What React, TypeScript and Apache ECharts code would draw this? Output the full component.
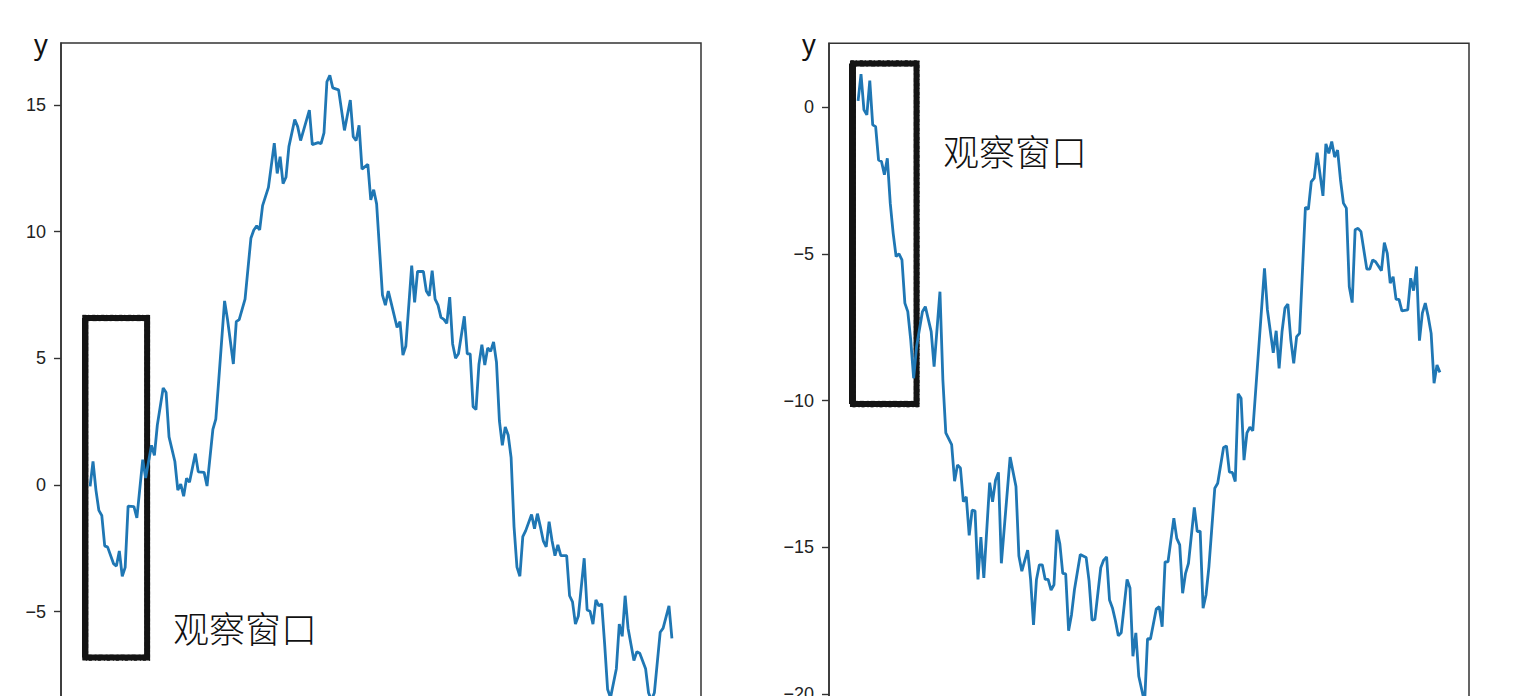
import React, { useEffect, useRef } from "react";
import * as echarts from "echarts";

// ---- data (step index, value) ----
const leftSteps = [0,1,2,3,4,5,6,8,9,10,11,12,13,15,16,18,19,21,22,23,25,26,27,29,30,31,32,33,34,36,37,39,40,42,43,44,46,47,49,50,51,53,55,56,57,58,59,61,63,64,65,66,67,68,70,71,72,75,76,78,79,80,81,82,83,85,87,89,90,91,92,93,95,96,97,98,100,101,102,103,105,106,107,108,110,111,112,114,115,116,117,118,119,120,121,122,123,124,125,126,128,129,130,131,132,133,134,135,136,137,138,139,140,141,142,143,144,145,146,147,148,149,151,152,153,154,155,156,157,158,159,160,161,163,164,165,166,167,169,170,171,172,173,174,175,176,177,178,180,181,182,183,184,186,187,188,190,191,192,193,195,196,198,199];
const leftValues = [-0.05,0.93,-0.2,-1.0,-1.2,-2.4,-2.45,-3.1,-3.2,-2.6,-3.6,-3.25,-0.83,-0.85,-1.3,1.0,0.28,1.57,1.17,2.37,3.83,3.65,1.9,0.93,-0.2,0.04,-0.44,0.27,0.11,1.24,0.52,0.5,-0.04,2.2,2.6,4.13,7.27,6.54,4.78,6.45,6.53,7.34,9.74,10.07,10.23,10.07,11.03,11.75,13.5,12.3,12.96,11.9,12.15,13.36,14.43,14.15,13.6,14.8,13.44,13.52,13.48,13.9,15.92,16.17,15.68,15.6,14.0,15.2,13.75,13.6,14.2,12.47,12.66,11.26,11.66,11.1,7.5,7.1,7.66,7.18,6.22,6.45,5.13,5.49,8.66,7.21,8.43,8.43,7.66,7.47,8.46,7.34,7.1,6.62,6.54,6.38,7.42,5.57,5.01,5.18,6.66,5.18,5.18,3.09,2.98,4.77,5.54,4.74,5.41,5.28,5.65,4.85,2.53,1.57,2.29,1.98,1.08,-1.64,-3.24,-3.6,-2.04,-1.8,-1.16,-1.72,-1.13,-1.64,-2.2,-2.44,-1.45,-2.2,-2.79,-2.36,-2.79,-2.79,-4.37,-4.61,-5.49,-5.17,-2.89,-4.93,-4.98,-5.49,-4.53,-4.77,-4.69,-6.29,-8.06,-8.4,-7.25,-5.49,-5.97,-4.37,-5.65,-6.93,-6.58,-6.64,-7.25,-8.2,-8.5,-8.2,-5.81,-5.65,-4.77,-6.05];

const rightSteps = [0,1,2,3,4,5,6,7,8,9,10,11,12,13,14,15,16,17,18,19,20,22,23,25,26,28,29,30,32,33,34,35,36,37,38,39,40,41,42,43,45,46,47,48,49,52,54,55,56,58,59,60,61,62,63,64,65,66,67,68,69,70,71,72,73,74,76,78,79,80,81,83,84,85,86,87,88,89,90,92,93,94,95,96,97,98,99,100,102,103,104,105,106,108,109,110,111,112,113,115,116,117,118,119,120,122,123,125,126,127,128,129,130,131,132,133,134,135,139,140,142,143,144,145,146,147,148,149,150,151,153,154,155,156,157,159,160,161,162,163,164,165,166,167,168,169,170,171,172,174,175,176,177,179,180,181,182,183,184,185,186,188,189,190,191,192,193,194,195,196,197,198,199];
const rightValues = [0.22,1.13,-0.09,-0.26,0.91,-0.6,-0.66,-1.8,-1.85,-2.3,-1.74,-3.27,-4.3,-5.09,-5.0,-5.2,-6.68,-6.97,-7.93,-9.24,-8.16,-6.97,-6.8,-7.65,-8.84,-6.29,-9.3,-11.1,-11.5,-12.75,-12.2,-12.3,-13.45,-13.28,-14.6,-13.74,-13.76,-16.1,-14.66,-16.05,-12.8,-13.45,-12.72,-12.45,-15.55,-11.93,-12.93,-15.3,-15.82,-15.1,-16.1,-17.65,-16.11,-15.6,-15.6,-16.1,-16.1,-16.46,-16.28,-14.41,-14.88,-15.89,-15.91,-17.85,-17.3,-16.45,-15.25,-15.35,-16.15,-17.49,-17.46,-15.7,-15.44,-15.33,-16.8,-17.07,-17.5,-18.02,-17.92,-16.1,-16.39,-18.72,-17.92,-19.4,-19.85,-20.3,-18.12,-18.13,-17.1,-17.03,-17.71,-15.5,-15.5,-14.01,-14.7,-14.92,-16.57,-15.89,-15.55,-13.64,-14.47,-14.45,-17.08,-16.63,-15.66,-12.99,-12.82,-11.6,-11.55,-12.44,-12.45,-12.76,-9.77,-9.92,-12.03,-11.1,-10.91,-11.03,-5.49,-6.91,-8.37,-7.62,-8.9,-7.65,-6.85,-6.71,-7.93,-8.73,-7.82,-7.71,-3.41,-3.48,-2.54,-2.42,-1.55,-3.02,-1.25,-1.57,-1.17,-1.7,-1.46,-2.48,-3.27,-3.44,-6.12,-6.66,-4.18,-4.13,-4.24,-5.52,-5.52,-5.21,-5.27,-5.57,-4.62,-4.98,-6.0,-5.78,-6.55,-6.55,-6.94,-6.91,-5.83,-6.25,-5.43,-7.96,-7.02,-6.68,-7.14,-7.71,-9.41,-8.79,-9.04];

const leftTicks = [-5, 0, 5, 10, 15];
const rightTicks = [-20, -15, -10, -5, 0];

// observation windows [x0, x1] in steps, [y0, y1] in values
const leftWindowX = [-1.6, 19.5];
const leftWindowY = [-6.81, 6.59];
const rightWindowX = [-1.75, 20];
const rightWindowY = [-10.12, 1.49];

const windowLabel = "观察窗口";
const axisName = "y";

const BLUE = "#1f77b4";
const FRAME = "#333333";
const INK = "#141414";

function pairs(xs: number[], ys: number[]) {
  return xs.map((x, i) => [x, ys[i]]);
}

function fmt(v: number) {
  return v < 0 ? "\u2212" + Math.abs(v) : String(v);
}

function yAxisFor(gridIndex: number, min: number, max: number, ticks: number[]) {
  return {
    type: "value",
    gridIndex,
    min,
    max,
    splitLine: { show: false },
    axisLine: { show: true, onZero: false, lineStyle: { color: FRAME, width: 1.5 } },
    axisTick: {
      show: true,
      length: 7,
      lineStyle: { color: FRAME, width: 1.4 },
      customValues: ticks,
    },
    axisLabel: {
      show: true,
      margin: 15,
      color: "#222",
      fontSize: 18,
      fontFamily: "Liberation Sans, Arial, sans-serif",
      formatter: fmt,
      customValues: ticks,
    },
  };
}

function xAxisFor(gridIndex: number) {
  return {
    type: "value",
    gridIndex,
    min: -9.95,
    max: 208.95,
    axisLine: { show: false, onZero: false },
    axisTick: { show: false },
    axisLabel: { show: false },
    splitLine: { show: false },
  };
}

// brush-like window: a solid frame plus two ragged dashed outlines around it
function windowArea(wx: number[], wy: number[], dx: number, dy: number) {
  return {
    silent: true,
    itemStyle: {
      color: "rgba(0,0,0,0)",
      borderColor: INK,
      borderWidth: 6,
    },
    label: { show: false },
    data: [
      [{ coord: [wx[0], wy[1]] }, { coord: [wx[1], wy[0]] }],
      [
        {
          coord: [wx[0] - dx, wy[1] + dy],
          itemStyle: {
            color: "rgba(0,0,0,0)",
            borderColor: "rgba(20,20,20,0.75)",
            borderWidth: 1.6,
            borderType: [3, 2, 1, 3],
          },
        },
        { coord: [wx[1] + dx, wy[0] - dy] },
      ],
      [
        {
          coord: [wx[0] + dx, wy[1] - dy],
          itemStyle: {
            color: "rgba(0,0,0,0)",
            borderColor: "rgba(20,20,20,0.6)",
            borderWidth: 1.2,
            borderType: [2, 3, 4, 2],
          },
        },
        { coord: [wx[1] - dx, wy[0] + dy] },
      ],
    ],
  };
}

function windowEdge(wx: number[], wy: number[]) {
  return {
    silent: true,
    symbol: ["none", "none"],
    label: { show: false },
    lineStyle: { color: INK, width: 4, type: "solid" },
    data: [[{ coord: [wx[0] - 0.6, wy[1]] }, { coord: [wx[0] - 0.6, wy[0]] }]],
  };
}

export default function App() {
  const ref = useRef<HTMLDivElement>(null);

  useEffect(() => {
    if (!ref.current) return;
    const chart = echarts.init(ref.current, undefined, { renderer: "svg" });
    const option = {
      animation: false,
      backgroundColor: "#ffffff",
      grid: [
        {
          left: 61,
          top: 43,
          width: 640,
          height: 720.7,
          show: true,
          borderColor: FRAME,
          borderWidth: 1.5,
          backgroundColor: "rgba(0,0,0,0)",
          containLabel: false,
          outerBoundsMode: "none",
        },
        {
          left: 829,
          top: 43.3,
          width: 640,
          height: 709.2,
          show: true,
          borderColor: FRAME,
          borderWidth: 1.5,
          backgroundColor: "rgba(0,0,0,0)",
          containLabel: false,
          outerBoundsMode: "none",
        },
      ],
      xAxis: [xAxisFor(0), xAxisFor(1)],
      yAxis: [
        yAxisFor(0, -11, 17.45, leftTicks),
        yAxisFor(1, -22, 2.18, rightTicks),
      ],
      series: [
        {
          type: "line",
          xAxisIndex: 0,
          yAxisIndex: 0,
          data: pairs(leftSteps, leftValues),
          showSymbol: false,
          symbol: "none",
          lineStyle: { color: BLUE, width: 2.8 },
          markArea: windowArea(leftWindowX, leftWindowY, 0.75, 0.1),
          markLine: windowEdge(leftWindowX, leftWindowY),
        },
        {
          type: "line",
          xAxisIndex: 1,
          yAxisIndex: 1,
          data: pairs(rightSteps, rightValues),
          showSymbol: false,
          symbol: "none",
          lineStyle: { color: BLUE, width: 2.8 },
          markArea: windowArea(rightWindowX, rightWindowY, 0.75, 0.09),
          markLine: windowEdge(rightWindowX, rightWindowY),
        },
      ],
      graphic: [
        {
          type: "text",
          left: 34,
          top: 30,
          style: { text: axisName, fontSize: 27, fontFamily: "Noto Sans", fill: "#111" },
        },
        {
          type: "text",
          left: 802,
          top: 30,
          style: { text: axisName, fontSize: 27, fontFamily: "Noto Sans", fill: "#111" },
        },
        {
          type: "text",
          left: 173,
          top: 609,
          style: { text: windowLabel, fontSize: 36, fontWeight: 300, fontFamily: "Noto Sans CJK SC", fill: "#111" },
        },
        {
          type: "text",
          left: 943,
          top: 132,
          style: { text: windowLabel, fontSize: 36, fontWeight: 300, fontFamily: "Noto Sans CJK SC", fill: "#111" },
        },
      ],
    };
    chart.setOption(option as any);
    return () => chart.dispose();
  }, []);

  return (
    <div
      ref={ref}
      style={{
        position: "fixed",
        left: 0,
        top: 0,
        width: 1530,
        height: 800,
        overflow: "hidden",
        background: "#fff",
      }}
    />
  );
}
